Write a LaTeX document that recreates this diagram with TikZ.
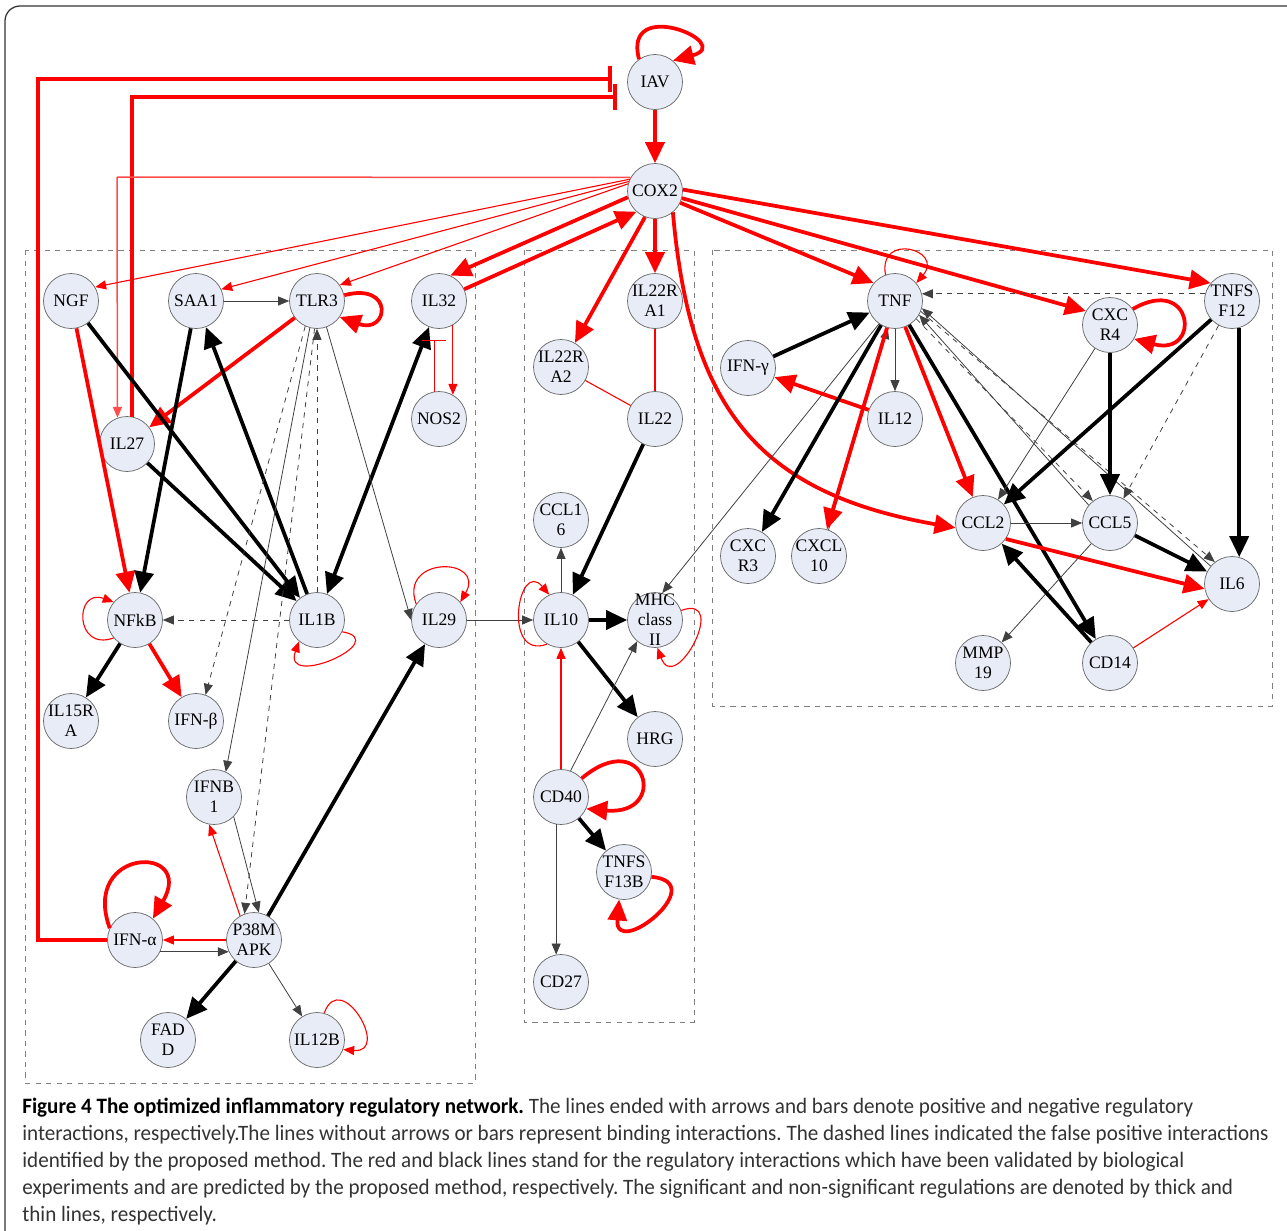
\documentclass[tikz,border=0pt]{standalone}
\usepackage{fontspec}
\setmainfont{Liberation Serif}
\newfontfamily\capfont[FakeStretch=0.96]{Carlito}
\usetikzlibrary{arrows.meta,calc}
\definecolor{genefill}{HTML}{E8ECF6}
\definecolor{boxgray}{HTML}{808080}

\begin{document}
\frenchspacing
\begin{tikzpicture}[x=0.2mm, y=-0.2mm,
    gene/.style={circle, draw=black!60, fill=genefill, minimum size=11mm, inner sep=-5pt,
      align=center, font=\fontsize{10}{11.4}\selectfont},
    sigred/.style={red, line width=0.75mm},
    sigblk/.style={black, line width=0.75mm},
    wkred/.style={red, line width=0.22mm},
    wkblk/.style={black!75, line width=0.16mm},
    fpos/.style={wkblk, dashed},
    bigarr/.style={-{Triangle[length=4.2mm,width=3.8mm]}},
    smlarr/.style={-{Triangle[length=2.2mm,width=1.8mm]}},
    bothbig/.style={{Triangle[length=4.2mm,width=3.8mm]}-{Triangle[length=4.2mm,width=3.8mm]}},
    bigbar/.style={-{Bar[width=5.2mm]}},
    smlbar/.style={-{Bar[width=4.8mm]}},
    region/.style={draw=boxgray, dashed, line width=0.15mm}]
    \useasboundingbox (0,0) rectangle (1287,1231);
    \draw[black!80, line width=0.25mm, rounded corners=3mm] (5,6) rectangle (1310,1260);
    % dashed groups
    \draw[region] (25,250) rectangle (475,1083);
    \draw[region] (524,250) rectangle (694,1022);
    \draw[region] (712,250) rectangle (1272,706);
    % genes
    \node[gene] (iav) at (655,82) {IAV};
    \node[gene] (cox) at (655,191) {COX2};
    \node[gene] (ngf) at (71,301) {NGF};
    \node[gene] (saa) at (196,301) {SAA1};
    \node[gene] (tlr) at (317,301) {TLR3};
    \node[gene] (il32) at (439,301) {IL32};
    \node[gene] (nos) at (439,419) {NOS2};
    \node[gene] (il27) at (127,444) {IL27};
    \node[gene] (nfkb) at (135,620) {NFkB};
    \node[gene] (il1b) at (317,620) {IL1B};
    \node[gene] (il29) at (439,620) {IL29};
    \node[gene] (il15ra) at (71,721) {IL15R\\A};
    \node[gene] (ifnb) at (196,721) {IFN-β};
    \node[gene] (ifnbi) at (214,797) {IFNB\\1};
    \node[gene] (ifna) at (135,940) {IFN-α};
    \node[gene] (p38) at (254,940) {P38M\\APK};
    \node[gene] (fadd) at (168,1040) {FAD\\D};
    \node[gene] (il12b) at (317,1040) {IL12B};
    \node[gene] (il22ra1) at (655,301) {IL22R\\A1};
    \node[gene] (il22ra2) at (561,367) {IL22R\\A2};
    \node[gene] (il22) at (655,419) {IL22};
    \node[gene] (ccl16) at (561,520) {CCL1\\6};
    \node[gene] (il10) at (561,620) {IL10};
    \node[gene] (mhc) at (655,620) {MHC\\class\\II};
    \node[gene] (hrg) at (655,739) {HRG};
    \node[gene] (cd40) at (561,797) {CD40};
    \node[gene] (tnfsf13b) at (624,872) {TNFS\\F13B};
    \node[gene] (cd27) at (561,982) {CD27};
    \node[gene] (tnf) at (895,301) {TNF};
    \node[gene] (ifng) at (748,368) {IFN-γ};
    \node[gene] (il12) at (895,419) {IL12};
    \node[gene] (cxcr3) at (748,556) {CXC\\R3};
    \node[gene] (cxcl10) at (819,556) {CXCL\\10};
    \node[gene] (ccl2) at (983,523) {CCL2};
    \node[gene] (ccl5) at (1110,523) {CCL5};
    \node[gene] (cxcr4) at (1110,325) {CXC\\R4};
    \node[gene] (tnfsf12) at (1232,301) {TNFS\\F12};
    \node[gene] (il6) at (1232,584) {IL6};
    \node[gene] (mmp19) at (983,663) {MMP\\19};
    \node[gene] (cd14) at (1110,663) {CD14};
    % IAV and COX2
    \coordinate (iavbarA) at (612,79);
    \coordinate (iavbarB) at (617,97);
    \coordinate (il27corner) at (117,177);
    \path (iav.125) edge[sigred, bigarr, out=105, in=15, looseness=5] (iav.50);
    \path (iav) edge[sigred, bigarr] (cox);
    \draw[sigred, bigbar] (ifna.west) -| (38,79) -- (iavbarA);
    \draw[sigred, bigbar] (il27.80) |- (iavbarB);
    \draw[red!70, line width=0.3mm] (cox.151) -- (il27corner);
    \path (il27corner) edge[red!70, line width=0.3mm, smlarr] (il27.110);
    \path (cox.155) edge[wkred, smlarr] (ngf.30);
    \path (cox.160) edge[wkred, smlarr] (saa.25);
    \path (cox.165) edge[wkred, smlarr] (tlr.35);
    \path (cox.193) edge[sigred, bigarr] (il32.66);
    \path (il32.25) edge[sigred, bigarr] (cox.228);
    \path (cox.249) edge[sigred, bigarr] (il22ra2.60);
    \path (cox) edge[sigred, bigarr] (il22ra1);
    \draw[sigred, bigarr] (cox.-50) to[out=-85, in=170, looseness=1.2] (ccl2.190);
    \path (cox.-25) edge[sigred, bigarr] (tnf.140);
    \path (cox.-15) edge[sigred, bigarr] (cxcr4.150);
    \path (cox.3) edge[sigred, bigarr] (tnfsf12.140);
    % left group
    \path (saa) edge[wkblk, smlarr] (tlr);
    \path (tlr.12) edge[sigred, bigarr, out=15, in=-20, looseness=6] (tlr.-35);
    \path (tlr) edge[sigred, bigarr] (il27);
    \path (ngf) edge[sigred, bigarr] (nfkb);
    \path (ngf) edge[sigblk, bigarr] (il1b);
    \path (saa) edge[sigblk, bigarr] (nfkb);
    \path (il1b) edge[sigblk, bigarr] (saa);
    \path (il27) edge[sigblk, bigarr] (il1b);
    \path (il32) edge[sigblk, bothbig] (il1b);
    \draw[wkred, smlbar, shorten >=2.3mm] (nos.100) -- (nos.100 |- il32.south);
    \path (il32.-60) edge[wkred, smlarr] (nos.60);
    \path (tlr.-70) edge[wkblk, smlarr] (il29.west);
    \path (il1b) edge[fpos, smlarr] (tlr);
    \path (tlr.-115) edge[fpos, smlarr] (ifnb.70);
    \path (tlr.-105) edge[wkblk, smlarr] (ifnbi.65);
    \path (tlr.-95) edge[fpos, smlarr] (p38.110);
    \path (il1b) edge[fpos, smlarr] (nfkb);
    \path (nfkb.-140) edge[wkred, smlarr, out=200, in=160, looseness=3] (nfkb.140);
    \path (il1b.-25) edge[wkred, smlarr, out=-10, in=-110, looseness=3] (il1b.-130);
    \path (il29.145) edge[wkred, smlarr, out=110, in=60, looseness=3] (il29.40);
    \path (il29) edge[wkblk, smlarr] (il10);
    \path (nfkb) edge[sigblk, bigarr] (il15ra);
    \path (nfkb) edge[sigred, bigarr] (ifnb);
    \path (p38.120) edge[wkred, smlarr] (ifnbi.-100);
    \path (ifnbi.-45) edge[wkblk, smlarr] (p38.80);
    \path (p38) edge[wkred, smlarr] (ifna);
    \path (ifna.-25) edge[wkblk, smlarr] (p38.-155);
    \path (ifna.155) edge[sigred, bigarr, out=110, in=60, looseness=5] (ifna.50);
    \path (p38) edge[sigblk, bigarr] (il29);
    \path (p38) edge[sigblk, bigarr] (fadd);
    \path (p38) edge[wkblk, smlarr] (il12b);
    \path (il12b.75) edge[wkred, smlarr, out=70, in=-5, looseness=3] (il12b.-20);
    % middle group
    \path (il22ra1) edge[wkred] (il22);
    \path (il22ra2) edge[wkred] (il22);
    \path (il22) edge[sigblk, bigarr] (il10);
    \path (il10) edge[wkblk, smlarr] (ccl16);
    \path (il10.-120) edge[wkred, smlarr, out=200, in=130, looseness=2.5] (il10.115);
    \path (il10) edge[sigblk, bigarr] (mhc);
    \path (mhc.20) edge[wkred, smlarr, out=20, in=-70, looseness=3] (mhc.-85);
    \path (il10) edge[sigblk, bigarr] (hrg);
    \path (cd40) edge[wkred, smlarr] (il10);
    \path (cd40.70) edge[wkblk, smlarr] (mhc.-130);
    \path (cd40.42) edge[sigred, bigarr, out=40, in=-5, looseness=7] (cd40.-25);
    \path (cd40) edge[sigblk, bigarr] (tnfsf13b);
    \path (tnfsf13b.-10) edge[sigred, bigarr, out=-5, in=-95, looseness=4] (tnfsf13b.-100);
    \path (cd40.-100) edge[wkblk, smlarr] (cd27.100);
    \path (tnf.-125) edge[wkblk, smlarr] (mhc.75);
    % right group
    \path (tnf.110) edge[wkred, smlarr, out=100, in=50, looseness=3.5] (tnf.40);
    \path (tnfsf12.165) edge[fpos, smlarr] (tnf.15);
    \path (ifng) edge[sigblk, bigarr] (tnf);
    \path (il12) edge[sigred, bigarr] (ifng);
    \path (tnf) edge[wkblk, smlarr] (il12);
    \path (cxcl10.70) edge[wkblk, smlarr] (tnf.-105);
    \path (tnf) edge[sigblk, bigarr] (cxcr3);
    \path (tnf) edge[sigred, bigarr] (cxcl10);
    \path (tnf) edge[sigred, bigarr] (ccl2);
    \path (tnf) edge[sigblk, bigarr] (cd14);
    \path (ccl5.140) edge[wkblk, smlarr] (tnf.-30);
    \path (tnf.-40) edge[fpos, smlarr] (ccl5.128);
    \path (il6.140) edge[wkblk, smlarr] (tnf.-15);
    \path (tnf.-22) edge[fpos, smlarr] (il6.128);
    \path (cxcr4) edge[wkblk, smlarr] (ccl2);
    \path (cxcr4) edge[sigblk, bigarr] (ccl5);
    \path (cxcr4.35) edge[sigred, bigarr, out=30, in=-15, looseness=6] (cxcr4.-30);
    \path (tnfsf12) edge[sigblk, bigarr] (ccl2);
    \path (tnfsf12) edge[fpos, smlarr] (ccl5);
    \path (tnfsf12.-75) edge[sigblk, bigarr] (il6.75);
    \path (ccl2) edge[wkblk, smlarr] (ccl5);
    \path (ccl2.-35) edge[sigred, bigarr] (il6.-170);
    \path (ccl5) edge[sigblk, bigarr] (il6);
    \path (ccl5) edge[wkblk, smlarr] (mmp19);
    \path (cd14) edge[sigblk, bigarr] (ccl2);
    \path (cd14) edge[wkred, smlarr] (il6);
    % caption
    \node[anchor=north west, inner sep=0pt, align=left, text=black!80,
      font=\capfont\fontsize{12.5}{15.36}\selectfont] (caption) at (22,1098)
      {\textbf{\color{black}Figure 4 The optimized inflammatory regulatory network.} The lines ended with arrows and bars denote positive and negative regulatory\\
       interactions, respectively.The lines without arrows or bars represent binding interactions. The dashed lines indicated the false positive interactions\\
       identified by the proposed method. The red and black lines stand for the regulatory interactions which have been validated by biological\\
       experiments and are predicted by the proposed method, respectively. The significant and non-significant regulations are denoted by thick and\\
       thin lines, respectively.};
\end{tikzpicture}
\end{document}
